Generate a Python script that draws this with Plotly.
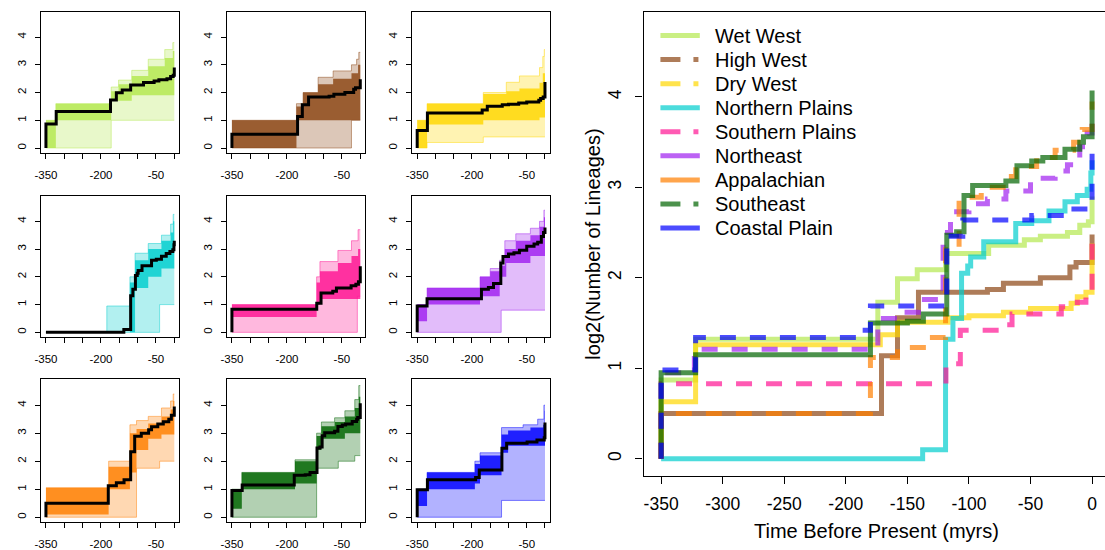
import plotly.graph_objects as go

# ---------------- data ----------------
REGIONS = ["Wet West", "High West", "Dry West", "Northern Plains", "Southern Plains",
           "Northeast", "Appalachian", "Southeast", "Coastal Plain"]
COLORS = ["#B3E84E", "#8B4513", "#FFD700", "#00CDCD", "#FF1493",
          "#A020F0", "#FF7F00", "#006400", "#0000FF"]

X_TICKS = [-350, -300, -250, -200, -150, -100, -50, 0]
SMALL_X_LABELS = ["-350", "", "", "-200", "", "", "-50", ""]
Y_TICKS = [0, 1, 2, 3, 4]

# mean lineage-through-time curves (time, log2 lineages), step after each time
WW_MEAN = [(-350, 0.87), (-322, 1.32), (-174, 1.73), (-158, 1.99), (-142, 2.09), (-119, 2.27),
           (-84, 2.36), (-55, 2.42), (-42, 2.46), (-20, 2.5), (-10, 2.58), (-3, 2.62), (0, 2.9)]
HW_MEAN = [(-350, 0.5), (-171, 1.14), (-158, 1.56), (-141, 1.84), (-85, 1.87), (-72, 1.94),
           (-42, 2.0), (-18, 2.12), (-13, 2.17), (0, 2.48)]
DW_MEAN = [(-350, 0.63), (-322, 1.26), (-172, 1.37), (-158, 1.51), (-117, 1.56), (-100, 1.58),
           (-72, 1.62), (-50, 1.66), (-17, 1.72), (-12, 1.79), (-5, 1.84), (0, 2.38)]
NP_MEAN = [(-350, 0.0), (-137.6, 0.1), (-119, 1.32), (-113, 1.55), (-106, 2.05), (-101, 2.13),
           (-98.6, 2.23), (-88, 2.4), (-62, 2.6), (-49, 2.63), (-35, 2.74), (-22, 2.84),
           (-12, 2.91), (-4, 2.98), (-1, 3.16), (0, 3.3)]
SP_MEAN = [(-350, 0.83), (-118.7, 1.05), (-107, 1.42), (-75, 1.48), (-65, 1.6), (-25, 1.68),
           (-12, 1.73), (-5, 1.82), (0, 2.38)]
NE_MEAN = [(-350, 0.95), (-323, 1.21), (-174, 1.55), (-155, 1.62), (-141, 1.76), (-121, 2.5),
           (-115, 2.73), (-100, 2.82), (-85, 2.87), (-70, 2.96), (-50, 3.1), (-30, 3.18),
           (-20, 3.25), (-10, 3.45), (-4, 3.6), (0, 3.78)]
AP_MEAN = [(-350, 0.5), (-180, 1.12), (-158, 1.23), (-137, 1.34), (-119, 2.34), (-108, 2.89),
           (-90, 3.0), (-70, 3.12), (-62, 3.23), (-45, 3.33), (-30, 3.41), (-15, 3.5),
           (-8, 3.64), (0, 3.95)]
SE_MEAN = [(-350, 0.95), (-322, 1.15), (-180, 1.5), (-150, 1.52), (-137, 1.6), (-118, 2.47),
           (-110, 2.51), (-104, 2.91), (-97, 3.02), (-70, 3.07), (-61, 3.24), (-49, 3.29),
           (-40, 3.33), (-22, 3.42), (-10, 3.5), (-7, 3.56), (0, 4.07)]
CP_MEAN = [(-350, 0.98), (-322, 1.34), (-190, 1.42), (-180, 1.69), (-118, 2.46), (-105, 2.64),
           (-49, 2.69), (-22, 2.76), (-2, 2.84), (0, 3.38)]

# posterior-sample envelopes: outer (all samples) and core (dense) bands
WW_OUT_LO = [(-350, 0), (-172, 1.0)]
WW_OUT_HI = [(-350, 1.0), (-323, 1.6), (-172, 2.2), (-152, 2.45), (-116, 2.8), (-71, 3.2), (-26, 3.55), (-4, 3.8)]
WW_CORE_LO = [(-350, 0), (-323, 1.0), (-172, 1.7), (-116, 1.9)]
WW_CORE_HI = [(-350, 1.0), (-323, 1.6), (-172, 2.05), (-152, 2.3), (-116, 2.6), (-71, 2.95), (-26, 3.25), (-4, 3.5)]

HW_OUT_LO = [(-350, 0), (-24, 1.0)]
HW_OUT_HI = [(-350, 1.0), (-174, 1.6), (-156, 2.0), (-115, 2.55), (-74, 2.78), (-24, 3.0), (-10, 3.2), (-4, 3.45)]
HW_CORE_LO = [(-350, 0), (-174, 1.0)]
HW_CORE_HI = [(-350, 1.0), (-174, 1.5), (-156, 2.0), (-115, 2.3), (-74, 2.5), (-24, 2.7), (-6, 3.0)]

DW_OUT_LO = [(-350, 0), (-323, 0.2), (-169, 0.4)]
DW_OUT_HI = [(-350, 1.0), (-323, 1.6), (-169, 2.0), (-106, 2.37), (-70, 2.6), (-15, 2.9), (-6, 3.3), (-2, 3.55)]
DW_CORE_LO = [(-350, 0), (-323, 0.85), (-169, 1.0), (-15, 1.1)]
DW_CORE_HI = [(-350, 1.0), (-323, 1.6), (-169, 1.95), (-106, 2.05), (-70, 2.15), (-15, 2.35), (-6, 2.7)]

NP_OUT_LO = [(-350, 0), (-40, 1.0)]
NP_OUT_HI = [(-350, 0), (-184, 0.95), (-121, 2.0), (-107, 2.85), (-71, 3.2), (-35, 3.5), (-10, 3.9), (-3, 4.25)]
NP_CORE_LO = [(-350, 0), (-107, 1.6), (-71, 2.0), (-35, 2.3)]
NP_CORE_HI = [(-350, 0), (-121, 1.8), (-107, 2.6), (-71, 3.0), (-35, 3.3), (-10, 3.6), (-3, 4.0)]

SP_OUT_LO = [(-350, 0), (-8, 1.3)]
SP_OUT_HI = [(-350, 1.0), (-119, 2.0), (-110, 2.55), (-61, 2.95), (-24, 3.3), (-6, 3.7)]
SP_CORE_LO = [(-350, 0.55), (-119, 1.0), (-110, 1.2)]
SP_CORE_HI = [(-350, 1.0), (-119, 1.8), (-110, 2.2), (-61, 2.5), (-24, 2.75), (-6, 3.0)]

NE_OUT_LO = [(-350, 0), (-120, 0.8)]
NE_OUT_HI = [(-350, 1.0), (-323, 1.6), (-178, 2.0), (-150, 2.3), (-124, 2.6), (-110, 3.3), (-80, 3.55), (-40, 3.75), (-15, 4.0), (-3, 4.4)]
NE_CORE_LO = [(-350, 0.4), (-323, 1.0), (-178, 1.3), (-124, 2.0), (-106, 2.5), (-40, 2.75)]
NE_CORE_HI = [(-350, 1.0), (-323, 1.6), (-178, 2.0), (-150, 2.2), (-124, 2.4), (-110, 3.0), (-80, 3.3), (-40, 3.5), (-15, 3.8), (-3, 4.15)]

AP_OUT_LO = [(-350, 0), (-103, 1.75), (-40, 2.0)]
AP_OUT_HI = [(-350, 1.05), (-179, 2.0), (-121, 3.3), (-103, 3.45), (-71, 3.6), (-35, 3.9), (-10, 4.15), (-3, 4.4)]
AP_CORE_LO = [(-350, 0.1), (-179, 1.0), (-121, 1.6), (-103, 2.4), (-71, 2.8), (-35, 2.95)]
AP_CORE_HI = [(-350, 1.05), (-179, 1.8), (-121, 3.0), (-103, 3.15), (-71, 3.35), (-35, 3.6), (-10, 3.85), (-3, 4.15)]

SE_OUT_LO = [(-350, 0), (-119, 1.75), (-60, 2.0), (-15, 2.2)]
SE_OUT_HI = [(-350, 1.0), (-323, 1.6), (-178, 2.05), (-119, 3.0), (-106, 3.4), (-70, 3.55), (-42, 3.8), (-15, 4.2), (-4, 4.7)]
SE_CORE_LO = [(-350, 0.3), (-323, 1.0), (-178, 1.2), (-119, 2.4), (-106, 2.8), (-42, 3.0)]
SE_CORE_HI = [(-350, 1.0), (-323, 1.6), (-178, 2.0), (-119, 2.9), (-106, 3.25), (-70, 3.4), (-42, 3.6), (-15, 3.9), (-4, 4.3)]

CP_OUT_LO = [(-350, 0), (-119, 0.6)]
CP_OUT_HI = [(-350, 1.0), (-323, 1.6), (-192, 2.0), (-178, 2.3), (-119, 3.2), (-60, 3.3), (-20, 3.5), (-3, 4.0)]
CP_CORE_LO = [(-350, 0.4), (-323, 1.0), (-192, 1.2), (-178, 1.5), (-119, 2.3), (-101, 2.55)]
CP_CORE_HI = [(-350, 1.0), (-323, 1.6), (-192, 1.9), (-178, 2.2), (-119, 2.95), (-101, 3.1), (-40, 3.2), (-5, 3.3), (-1, 3.8)]

MEANS = [WW_MEAN, HW_MEAN, DW_MEAN, NP_MEAN, SP_MEAN, NE_MEAN, AP_MEAN, SE_MEAN, CP_MEAN]
BANDS = [
    (WW_OUT_LO, WW_OUT_HI, WW_CORE_LO, WW_CORE_HI),
    (HW_OUT_LO, HW_OUT_HI, HW_CORE_LO, HW_CORE_HI),
    (DW_OUT_LO, DW_OUT_HI, DW_CORE_LO, DW_CORE_HI),
    (NP_OUT_LO, NP_OUT_HI, NP_CORE_LO, NP_CORE_HI),
    (SP_OUT_LO, SP_OUT_HI, SP_CORE_LO, SP_CORE_HI),
    (NE_OUT_LO, NE_OUT_HI, NE_CORE_LO, NE_CORE_HI),
    (AP_OUT_LO, AP_OUT_HI, AP_CORE_LO, AP_CORE_HI),
    (SE_OUT_LO, SE_OUT_HI, SE_CORE_LO, SE_CORE_HI),
    (CP_OUT_LO, CP_OUT_HI, CP_CORE_LO, CP_CORE_HI),
]
MAIN_DASHED = [False, False, False, False, True, True, True, False, True]
LEGEND_DASHDOT = [False, True, True, False, True, False, False, True, False]

# ---------------- styling ----------------
W, H = 1105, 550
FONT = "Liberation Sans, Arial, Helvetica, sans-serif"


def rgba(hexc, a):
    h = hexc.lstrip("#")
    r, g, b = int(h[0:2], 16), int(h[2:4], 16), int(h[4:6], 16)
    return f"rgba({r},{g},{b},{a})"


def step_xy(steps, from_zero=False):
    xs = [t for t, _ in steps]
    ys = [v for _, v in steps]
    if from_zero:
        xs = [xs[0]] + xs
        ys = [0.0] + ys
    if xs[-1] < 0:
        xs.append(0)
        ys.append(ys[-1])
    return xs, ys


def px_x(x0, x1):
    return [x0 / W, x1 / W]


def px_y(top, bottom):
    return [1 - bottom / H, 1 - top / H]


COLS = [(35, 174), (222, 361), (408.3, 546.7)]
ROWS = [(11.7, 155), (198.3, 341.7), (384.3, 529)]

fig = go.Figure()
layout = {}

for i in range(9):
    r, c = divmod(i, 3)
    k = i + 1
    xa, ya = f"x{k}", f"y{k}"
    col = COLORS[i]
    out_lo, out_hi, core_lo, core_hi = BANDS[i]
    for lo, hi, alpha, lw in ((out_lo, out_hi, 0.3, 0.8), (core_lo, core_hi, 0.82, 0.0)):
        lx, ly = step_xy(lo)
        hx, hy = step_xy(hi)
        fig.add_trace(go.Scatter(x=lx, y=ly, mode="lines", line=dict(shape="hv", width=lw, color=rgba(col, 0.6)),
                                 xaxis=xa, yaxis=ya, showlegend=False, hoverinfo="skip"))
        fig.add_trace(go.Scatter(x=hx, y=hy, mode="lines", line=dict(shape="hv", width=lw, color=rgba(col, 0.6)),
                                 fill="tonexty", fillcolor=rgba(col, alpha),
                                 xaxis=xa, yaxis=ya, showlegend=False, hoverinfo="skip"))
    mx, my = step_xy(MEANS[i], from_zero=True)
    fig.add_trace(go.Scatter(x=mx, y=my, mode="lines", line=dict(shape="hv", width=3, color="black"),
                             xaxis=xa, yaxis=ya, showlegend=False, hoverinfo="skip"))
    common = dict(showline=True, linecolor="black", linewidth=1, mirror=True, ticks="outside",
                  ticklen=5, tickwidth=1, tickcolor="black", showgrid=False, zeroline=False,
                  tickfont=dict(size=11.5, family=FONT, color="black"))
    layout[f"xaxis{k}"] = dict(domain=px_x(*COLS[c]), range=[-364, 13], anchor=ya,
                               tickmode="array", tickvals=X_TICKS, ticktext=SMALL_X_LABELS,
                               ticklabelstandoff=6, **common)
    layout[f"yaxis{k}"] = dict(domain=px_y(*ROWS[r]), range=[-0.18, 4.92], anchor=xa,
                               tickmode="array", tickvals=Y_TICKS, ticktext=[str(v) for v in Y_TICKS],
                               tickangle=-90, ticklabelstandoff=4, **common)

# main panel
for i in range(9):
    mx, my = step_xy(MEANS[i], from_zero=True)
    fig.add_trace(go.Scatter(x=mx, y=my, mode="lines",
                             line=dict(shape="hv", width=5, color=rgba(COLORS[i], 0.7),
                                       dash="16px,14px" if MAIN_DASHED[i] else "solid"),
                             xaxis="x10", yaxis="y10", showlegend=False, hoverinfo="skip"))

main_common = dict(showline=True, linecolor="black", linewidth=1.2, ticks="outside", ticklen=7,
                   tickwidth=1.2, tickcolor="black", showgrid=False, zeroline=False,
                   tickfont=dict(size=17.5, family=FONT, color="black"))
layout["xaxis10"] = dict(domain=px_x(641, 1105), range=[-364.3, 10.5], anchor="y10", mirror=True,
                         tickmode="array", tickvals=X_TICKS, ticktext=[str(v) for v in X_TICKS],
                         ticklabelstandoff=5, **main_common)
layout["yaxis10"] = dict(domain=px_y(12, 482), range=[-0.189, 4.94], anchor="x10", mirror=False,
                         tickmode="array", tickvals=Y_TICKS, ticktext=[str(v) for v in Y_TICKS],
                         tickangle=-90, ticklabelstandoff=7, **main_common)

shapes = []
annotations = []
LEG_Y0, LEG_DY = 36, 24.375
for i, name in enumerate(REGIONS):
    yy = LEG_Y0 + LEG_DY * i
    shapes.append(dict(type="line", xref="paper", yref="paper", x0=658 / W, x1=697.6 / W,
                       y0=1 - yy / H, y1=1 - yy / H,
                       line=dict(color=rgba(COLORS[i], 0.7), width=5,
                                 dash="20px,13px,5px,20px" if LEGEND_DASHDOT[i] else "solid")))
    annotations.append(dict(xref="paper", yref="paper", x=711 / W, y=1 - yy / H, xanchor="left",
                            yanchor="middle", text=name, showarrow=False,
                            font=dict(size=20, family=FONT, color="black")))

annotations.append(dict(xref="paper", yref="paper", x=875 / W, y=1 - 538 / H, xanchor="center",
                        yanchor="middle", text="Time Before Present (myrs)", showarrow=False,
                        font=dict(size=20, family=FONT, color="black")))
annotations.append(dict(xref="paper", yref="paper", x=590 / W, y=1 - 247 / H, xanchor="center",
                        yanchor="middle", text="log2(Number of Lineages)", textangle=-90, showarrow=False,
                        font=dict(size=20, family=FONT, color="black")))

fig.update_layout(width=W, height=H, margin=dict(l=0, r=0, t=0, b=0),
                  paper_bgcolor="white", plot_bgcolor="white", showlegend=False,
                  shapes=shapes, annotations=annotations, font=dict(family=FONT), **layout)

fig.write_html("out.html", config={"displayModeBar": False},
               post_script="document.body.style.margin='0px';document.body.style.padding='0px';")
